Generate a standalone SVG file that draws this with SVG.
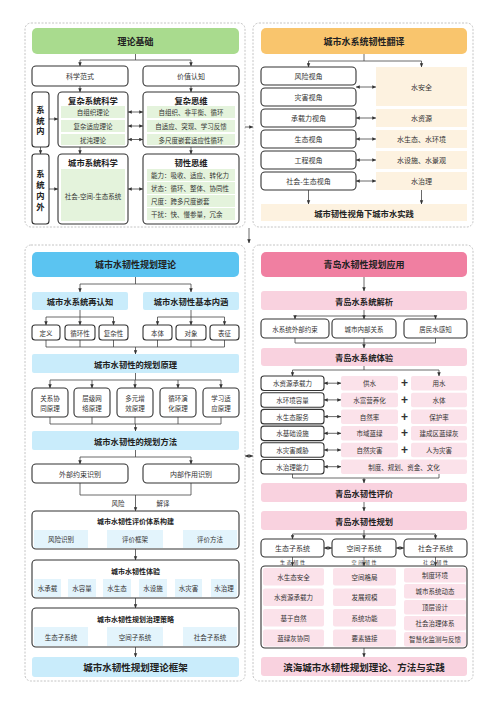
<svg xmlns="http://www.w3.org/2000/svg" width="500" height="707" viewBox="0 0 500 707">
<defs>
<style>
.panel{fill:#fff;stroke:#bdbdbd;stroke-width:0.9;stroke-dasharray:2 1.5}
.box{fill:#fff;stroke:#333;stroke-width:1.1}
.g1{fill:#E4F3DC}.gh{fill:#A9DB8E}
.oh{fill:#F9C56D}.o1{fill:#FDF2E0}
.bh{fill:#5BC4F1}.b1{fill:#C9ECFB}.b2{fill:#E3F4FC}
.ph{fill:#F07FA1}.p1{fill:#F9D2DF}.p2{fill:#FBE2EA}
.t{font-family:"Noto Sans CJK SC","Noto Sans",sans-serif;font-size:6.5px;fill:#333;text-anchor:middle;dominant-baseline:central}
.tl{text-anchor:start}
.b{font-weight:bold;fill:#222}
.h{font-size:9px}
.m{font-size:8.3px}
.s{font-size:7px}
.xs{font-size:5px;letter-spacing:1.6px}
.ln{fill:none;stroke:#444;stroke-width:0.8}
.ar{marker-end:url(#a)}
.da{marker-start:url(#a);marker-end:url(#a)}
.plus{font-family:"Liberation Sans",sans-serif;font-size:12px;font-weight:bold;fill:#333;text-anchor:middle;dominant-baseline:central}
</style>
<marker id="a" viewBox="0 0 6 6" refX="5.6" refY="3" markerWidth="4" markerHeight="4" markerUnits="userSpaceOnUse" orient="auto-start-reverse"><path d="M0,0.4 L6,3 L0,5.6 z" fill="#333"/></marker>
</defs>

<!-- panels -->
<g id="panels">
<rect class="panel" x="25" y="23" width="220" height="204" rx="6"/>
<rect class="panel" x="253" y="23" width="220" height="204" rx="6"/>
<rect class="panel" x="25" y="245" width="220" height="436" rx="6"/>
<rect class="panel" x="253" y="245" width="220" height="436" rx="6"/>
</g>

<!-- connectors -->
<g id="connectors">
<!-- top left -->
<path class="ln" d="M135.5 54 V60 M80 60 H191"/>
<path class="ln ar" d="M80 60 V66"/><path class="ln ar" d="M191 60 V66"/>
<path class="ln ar" d="M80 86 V92"/><path class="ln ar" d="M191 86 V92"/>
<path class="ln ar" d="M49 119 H58"/>
<path class="ln da" d="M128 112 H143"/><path class="ln da" d="M128 126 H143"/><path class="ln da" d="M128 139.5 H143"/>
<path class="ln ar" d="M40.5 147 V154"/><path class="ln ar" d="M80 147 V154"/><path class="ln ar" d="M191 147 V154"/>
<path class="ln ar" d="M49 189 H58"/>
<path class="ln da" d="M128 189 H143"/>
<!-- top right -->
<path class="ln" d="M364 54 V61 M308.5 61 H421.5"/>
<path class="ln ar" d="M308.5 61 V67"/><path class="ln ar" d="M421.5 61 V67"/>
<path class="ln da" d="M356 87 H376"/><path class="ln da" d="M356 118 H376"/><path class="ln da" d="M356 139 H376"/><path class="ln da" d="M356 160 H376"/><path class="ln da" d="M356 181 H376"/>
<path class="ln ar" d="M308.5 190 V204"/><path class="ln ar" d="M421.5 190 V204"/>
<!-- between panels -->
<path class="ln ar" d="M245 127 H253"/>
<path class="ln ar" d="M249 228 V243"/>
<path class="ln da" d="M245 456 H253"/>
<!-- bottom left -->
<path class="ln" d="M135.5 277 V284 M80 284 H191"/>
<path class="ln ar" d="M80 284 V292"/><path class="ln ar" d="M191 284 V292"/>
<path class="ln" d="M80 310 V317 M46 317 H113.5 M191 310 V317 M157.5 317 H224.5"/>
<path class="ln ar" d="M46 317 V325"/><path class="ln ar" d="M80 317 V325"/><path class="ln ar" d="M113.5 317 V325"/>
<path class="ln ar" d="M157.5 317 V325"/><path class="ln ar" d="M191 317 V325"/><path class="ln ar" d="M224.5 317 V325"/>
<path class="ln" d="M46 340 V347 M80 340 V347 M113.5 340 V347 M157.5 340 V347 M191 340 V347 M224.5 340 V347 M46 347 H224.5"/>
<path class="ln ar" d="M135.5 347 V354"/>
<path class="ln" d="M135.5 373 V380 M50 380 H221"/>
<path class="ln ar" d="M50 380 V388"/><path class="ln ar" d="M92 380 V388"/><path class="ln ar" d="M135 380 V388"/><path class="ln ar" d="M178 380 V388"/><path class="ln ar" d="M221 380 V388"/>
<path class="ln" d="M50 417 V424 M92 417 V424 M135 417 V424 M178 417 V424 M221 417 V424 M50 424 H221"/>
<path class="ln ar" d="M135.5 424 V431"/>
<path class="ln" d="M135.5 450 V457 M80 457 H191"/>
<path class="ln ar" d="M80 457 V464"/><path class="ln ar" d="M191 457 V464"/>
<path class="ln" d="M80 483 V495 H191 V483"/>
<path class="ln ar" d="M135.5 495 V511"/>
<path class="ln ar" d="M88 539 H107"/><path class="ln ar" d="M163 539 H183"/>
<path class="ln ar" d="M135.5 549 V560"/>
<path class="ln ar" d="M135.5 598 V608"/>
<path class="ln da" d="M88 636.5 H107"/><path class="ln da" d="M163 636.5 H183"/>
<path class="ln ar" d="M135.5 647 V657"/>
<!-- bottom right -->
<path class="ln ar" d="M364 277 V291"/>
<path class="ln" d="M364 310 V316 M295 316 H435.5"/>
<path class="ln ar" d="M295 316 V319"/><path class="ln ar" d="M364 316 V319"/><path class="ln ar" d="M435.5 316 V319"/>
<path class="ln" d="M295 338 V343 H435.5 V338"/>
<path class="ln ar" d="M364 338 V348"/>
<path class="ln" d="M364 366 V370 M292.5 370 H439"/>
<path class="ln ar" d="M292.5 370 V376"/><path class="ln ar" d="M439 370 V376"/>
<path class="ln da" d="M324 383.2 H341"/><path class="ln da" d="M324 399.9 H341"/><path class="ln da" d="M324 416.6 H341"/><path class="ln da" d="M324 433.3 H341"/><path class="ln da" d="M324 450 H341"/><path class="ln da" d="M324 466.7 H341"/>
<path class="ln" d="M292.5 474 V478 H439 V474"/>
<path class="ln ar" d="M364 478 V483"/>
<path class="ln ar" d="M364 502 V511"/>
<path class="ln" d="M364 530 V534 M292.5 534 H435.5"/>
<path class="ln ar" d="M292.5 534 V539"/><path class="ln ar" d="M364 534 V539"/><path class="ln ar" d="M435.5 534 V539"/>
<path class="ln da" d="M324 548 H332"/><path class="ln da" d="M396 548 H404"/>
<path class="ln ar" d="M292.5 557 V566"/><path class="ln ar" d="M364 557 V566"/><path class="ln ar" d="M435.5 557 V566"/>
<path class="ln da" d="M324 608 H333"/><path class="ln da" d="M396 608 H404"/>
<path class="ln ar" d="M364 648 V657"/>
</g>

<!-- ===== top left ===== -->
<g id="n-lilun">
<rect class="gh" x="32" y="28" width="207" height="26" rx="5"/>
<text class="t b h" x="135.5" y="41">理论基础</text>
</g>
<g id="n-kexue"><rect class="box" x="32" y="66" width="96" height="20" rx="4"/><text class="t s" x="80" y="76">科学范式</text></g>
<g id="n-jiazhi"><rect class="box" x="143" y="66" width="96" height="20" rx="4"/><text class="t s" x="191" y="76">价值认知</text></g>
<g id="n-xtn">
<rect class="box" x="32" y="92" width="17" height="55" rx="3"/>
<text class="t b m" x="40.5" y="109">系</text><text class="t b m" x="40.5" y="119.5">统</text><text class="t b m" x="40.5" y="130">内</text>
</g>
<g id="n-fzxtkx">
<rect class="box" x="58" y="92" width="70" height="55" rx="4"/>
<text class="t b m" x="93" y="100">复杂系统科学</text>
<rect class="g1" x="61" y="106" width="64" height="12"/><text class="t" x="93" y="112">自组织理论</text>
<rect class="g1" x="61" y="120" width="64" height="12"/><text class="t" x="93" y="126">复杂适应理论</text>
<rect class="g1" x="61" y="134" width="64" height="11"/><text class="t" x="93" y="139.5">扰沌理论</text>
</g>
<g id="n-fzsw">
<rect class="box" x="143" y="92" width="96" height="55" rx="4"/>
<text class="t b m" x="191" y="100">复杂思维</text>
<rect class="g1" x="147" y="106" width="88" height="12"/><text class="t" x="191" y="112">自组织、非平衡、循环</text>
<rect class="g1" x="147" y="120" width="88" height="12"/><text class="t" x="191" y="126">自适应、突现、学习反馈</text>
<rect class="g1" x="147" y="134" width="88" height="11"/><text class="t" x="191" y="139.5">多尺度嵌套适应性循环</text>
</g>
<g id="n-xtnw">
<rect class="box" x="32" y="154" width="17" height="70" rx="3"/>
<text class="t b m" x="40.5" y="172.5">系</text><text class="t b m" x="40.5" y="183.5">统</text><text class="t b m" x="40.5" y="194.5">内</text><text class="t b m" x="40.5" y="205.5">外</text>
</g>
<g id="n-csxtkx">
<rect class="box" x="58" y="154" width="70" height="70" rx="4"/>
<text class="t b m" x="93" y="162">城市系统科学</text>
<rect class="g1" x="61" y="169" width="64" height="52"/>
<text class="t" x="93" y="196">社会-空间-生态系统</text>
</g>
<g id="n-rxsw">
<rect class="box" x="143" y="154" width="96" height="70" rx="4"/>
<text class="t b m" x="191" y="162">韧性思维</text>
<rect class="g1" x="147" y="169" width="88" height="12"/><text class="t tl" x="151" y="175">能力：吸收、适应、转化力</text>
<rect class="g1" x="147" y="182" width="88" height="12"/><text class="t tl" x="151" y="188">状态：循环、整体、协同性</text>
<rect class="g1" x="147" y="195" width="88" height="12"/><text class="t tl" x="151" y="201">尺度：跨多尺度嵌套</text>
<rect class="g1" x="147" y="208" width="88" height="12"/><text class="t tl" x="151" y="214">干扰：快、慢参量，冗余</text>
</g>

<!-- ===== top right ===== -->
<g id="n-fanyi">
<rect class="oh" x="261" y="28" width="206" height="26" rx="5"/>
<text class="t b h" x="364" y="41">城市水系统韧性翻译</text>
</g>
<g id="n-views">
<rect class="box" x="261" y="67" width="95" height="18" rx="4"/><text class="t s" x="308.5" y="76">风险视角</text>
<rect class="box" x="261" y="88" width="95" height="18" rx="4"/><text class="t s" x="308.5" y="97">灾害视角</text>
<rect class="box" x="261" y="109" width="95" height="18" rx="4"/><text class="t s" x="308.5" y="118">承载力视角</text>
<rect class="box" x="261" y="130" width="95" height="18" rx="4"/><text class="t s" x="308.5" y="139">生态视角</text>
<rect class="box" x="261" y="151" width="95" height="18" rx="4"/><text class="t s" x="308.5" y="160">工程视角</text>
<rect class="box" x="261" y="172" width="95" height="18" rx="4"/><text class="t s" x="308.5" y="181">社会-生态视角</text>
</g>
<g id="n-water">
<rect class="o1" x="376" y="67" width="91" height="39"/><text class="t s" x="421.5" y="86.5">水安全</text>
<rect class="o1" x="376" y="109" width="91" height="18"/><text class="t s" x="421.5" y="118">水资源</text>
<rect class="o1" x="376" y="130" width="91" height="18"/><text class="t s" x="421.5" y="139">水生态、水环境</text>
<rect class="o1" x="376" y="151" width="91" height="18"/><text class="t s" x="421.5" y="160">水设施、水景观</text>
<rect class="o1" x="376" y="172" width="91" height="18"/><text class="t s" x="421.5" y="181">水治理</text>
</g>
<g id="n-shijian">
<rect class="o1" x="261" y="204" width="206" height="17"/>
<text class="t b m" x="364" y="212.5">城市韧性视角下城市水实践</text>
</g>

<!-- ===== bottom left ===== -->
<g id="n-ghll"><rect class="bh" x="32" y="252" width="207" height="25" rx="5"/><text class="t b h" x="135.5" y="264.5">城市水韧性规划理论</text></g>
<g id="n-zrz"><rect class="b1" x="32" y="292" width="96" height="18" rx="2"/><text class="t b m" x="80" y="301">城市水系统再认知</text></g>
<g id="n-nh"><rect class="b1" x="143" y="292" width="96" height="18" rx="2"/><text class="t b m" x="191" y="301">城市水韧性基本内涵</text></g>
<g id="n-small">
<rect class="box" x="32" y="325" width="28" height="15" rx="3"/><text class="t" x="46" y="332.5">定义</text>
<rect class="box" x="65" y="325" width="30" height="15" rx="3"/><text class="t" x="80" y="332.5">循环性</text>
<rect class="box" x="99" y="325" width="29" height="15" rx="3"/><text class="t" x="113.5" y="332.5">复杂性</text>
<rect class="box" x="143" y="325" width="29" height="15" rx="3"/><text class="t" x="157.5" y="332.5">本体</text>
<rect class="box" x="176" y="325" width="30" height="15" rx="3"/><text class="t" x="191" y="332.5">对象</text>
<rect class="box" x="210" y="325" width="29" height="15" rx="3"/><text class="t" x="224.5" y="332.5">表征</text>
</g>
<g id="n-yl"><rect class="b1" x="32" y="354" width="207" height="19" rx="2"/><text class="t b m" x="135.5" y="363.5">城市水韧性的规划原理</text></g>
<g id="n-yl5">
<rect class="box" x="32" y="388" width="36" height="29" rx="4"/><text class="t" x="50" y="398">关系协</text><text class="t" x="50" y="408">同原理</text>
<rect class="box" x="74" y="388" width="36" height="29" rx="4"/><text class="t" x="92" y="398">层级网</text><text class="t" x="92" y="408">络原理</text>
<rect class="box" x="117" y="388" width="36" height="29" rx="4"/><text class="t" x="135" y="398">多元增</text><text class="t" x="135" y="408">效原理</text>
<rect class="box" x="160" y="388" width="36" height="29" rx="4"/><text class="t" x="178" y="398">循环演</text><text class="t" x="178" y="408">化原理</text>
<rect class="box" x="203" y="388" width="36" height="29" rx="4"/><text class="t" x="221" y="398">学习适</text><text class="t" x="221" y="408">应原理</text>
</g>
<g id="n-ff"><rect class="b1" x="32" y="431" width="207" height="19" rx="2"/><text class="t b m" x="135.5" y="440.5">城市水韧性的规划方法</text></g>
<g id="n-wb"><rect class="box" x="32" y="464" width="96" height="19" rx="4"/><text class="t s" x="80" y="473.5">外部约束识别</text></g>
<g id="n-nb"><rect class="box" x="143" y="464" width="96" height="19" rx="4"/><text class="t s" x="191" y="473.5">内部作用识别</text></g>
<g id="lbl-fx"><text class="t" x="118" y="503">风险</text><text class="t" x="163" y="503">解译</text></g>
<g id="n-pj">
<rect class="box" x="32" y="511" width="207" height="38" rx="4"/>
<text class="t b s" x="135.5" y="520.5">城市水韧性评价体系构建</text>
<rect class="b2" x="34" y="530" width="54" height="18"/><text class="t" x="61" y="539">风险识别</text>
<rect class="b2" x="107" y="530" width="56" height="18"/><text class="t" x="135" y="539">评价框架</text>
<rect class="b2" x="183" y="530" width="54" height="18"/><text class="t" x="210" y="539">评价方法</text>
</g>
<g id="n-ty">
<rect class="box" x="32" y="560" width="207" height="38" rx="4"/>
<text class="t b s" x="135.5" y="570.5">城市水韧性体验</text>
<rect class="b2" x="34" y="579" width="27" height="18"/><text class="t" x="47.5" y="588">水承载</text>
<rect class="b2" x="68" y="579" width="28" height="18"/><text class="t" x="82" y="588">水容量</text>
<rect class="b2" x="103" y="579" width="28" height="18"/><text class="t" x="117" y="588">水生态</text>
<rect class="b2" x="139" y="579" width="28" height="18"/><text class="t" x="153" y="588">水设施</text>
<rect class="b2" x="175" y="579" width="27" height="18"/><text class="t" x="188.5" y="588">水灾害</text>
<rect class="b2" x="211" y="579" width="26" height="18"/><text class="t" x="224" y="588">水治理</text>
</g>
<g id="n-zl">
<rect class="box" x="32" y="608" width="207" height="39" rx="4"/>
<text class="t b s" x="135.5" y="618.5">城市水韧性规划治理策略</text>
<rect class="b2" x="34" y="627" width="54" height="19"/><text class="t" x="61" y="636.5">生态子系统</text>
<rect class="b2" x="107" y="627" width="56" height="19"/><text class="t" x="135" y="636.5">空间子系统</text>
<rect class="b2" x="183" y="627" width="54" height="19"/><text class="t" x="210" y="636.5">社会子系统</text>
</g>
<g id="n-kj"><rect class="b1" x="32" y="657" width="207" height="20" rx="3"/><text class="t b" style="font-size:9.5px" x="135.5" y="667">城市水韧性规划理论框架</text></g>

<!-- ===== bottom right ===== -->
<g id="n-qd"><rect class="ph" x="261" y="252" width="206" height="25" rx="5"/><text class="t b h" x="364" y="264.5">青岛水韧性规划应用</text></g>
<g id="n-jx"><rect class="p1" x="261" y="291" width="206" height="19" rx="3"/><text class="t b m" x="364" y="300.5">青岛水系统解析</text></g>
<g id="n-jx3">
<rect class="box" x="261" y="319" width="68" height="19" rx="4"/><text class="t" x="295" y="328.5">水系统外部约束</text>
<rect class="box" x="332" y="319" width="64" height="19" rx="4"/><text class="t" x="364" y="328.5">城市内部关系</text>
<rect class="box" x="404" y="319" width="63" height="19" rx="4"/><text class="t" x="435.5" y="328.5">居民水感知</text>
</g>
<g id="n-qty"><rect class="p1" x="261" y="348" width="206" height="18" rx="3"/><text class="t b m" x="364" y="357">青岛水系统体验</text></g>
<g id="n-rows">
<rect class="box" x="261" y="376" width="63" height="14.5" rx="3"/><text class="t" x="292.5" y="383.2">水资源承载力</text>
<rect class="box" x="261" y="392.7" width="63" height="14.5" rx="3"/><text class="t" x="292.5" y="399.9">水环境容量</text>
<rect class="box" x="261" y="409.4" width="63" height="14.5" rx="3"/><text class="t" x="292.5" y="416.6">水生态服务</text>
<rect class="box" x="261" y="426.1" width="63" height="14.5" rx="3"/><text class="t" x="292.5" y="433.3">水基础设施</text>
<rect class="box" x="261" y="442.8" width="63" height="14.5" rx="3"/><text class="t" x="292.5" y="450">水灾害威胁</text>
<rect class="box" x="261" y="459.5" width="63" height="14.5" rx="3"/><text class="t" x="292.5" y="466.7">水治理能力</text>
<rect class="p2" x="341" y="376" width="57" height="14.5" rx="2"/><text class="t" x="369.5" y="383.2">供水</text>
<rect class="p2" x="341" y="392.7" width="57" height="14.5" rx="2"/><text class="t" x="369.5" y="399.9">水富营养化</text>
<rect class="p2" x="341" y="409.4" width="57" height="14.5" rx="2"/><text class="t" x="369.5" y="416.6">自然率</text>
<rect class="p2" x="341" y="426.1" width="57" height="14.5" rx="2"/><text class="t" x="369.5" y="433.3">市域蓝绿</text>
<rect class="p2" x="341" y="442.8" width="57" height="14.5" rx="2"/><text class="t" x="369.5" y="450">自然灾害</text>
<rect class="p2" x="341" y="459.5" width="126" height="14.5" rx="2"/><text class="t" x="404" y="466.7">制度、规划、资金、文化</text>
<rect class="p2" x="411" y="376" width="56" height="14.5" rx="2"/><text class="t" x="439" y="383.2">用水</text>
<rect class="p2" x="411" y="392.7" width="56" height="14.5" rx="2"/><text class="t" x="439" y="399.9">水体</text>
<rect class="p2" x="411" y="409.4" width="56" height="14.5" rx="2"/><text class="t" x="439" y="416.6">保护率</text>
<rect class="p2" x="411" y="426.1" width="56" height="14.5" rx="2"/><text class="t" x="439" y="433.3">建成区蓝绿灰</text>
<rect class="p2" x="411" y="442.8" width="56" height="14.5" rx="2"/><text class="t" x="439" y="450">人为灾害</text>
<text class="plus" x="404.5" y="383.2">+</text><text class="plus" x="404.5" y="399.9">+</text><text class="plus" x="404.5" y="416.6">+</text><text class="plus" x="404.5" y="433.3">+</text><text class="plus" x="404.5" y="450">+</text>
</g>
<g id="n-qpj"><rect class="p1" x="261" y="483" width="206" height="19" rx="3"/><text class="t b m" x="364" y="492.5">青岛水韧性评价</text></g>
<g id="n-qgh"><rect class="p1" x="261" y="511" width="206" height="19" rx="3"/><text class="t b m" x="364" y="520.5">青岛水韧性规划</text></g>
<g id="n-sub">
<rect class="box" x="261" y="539" width="63" height="18" rx="4"/><text class="t s" x="292.5" y="548">生态子系统</text>
<rect class="box" x="332" y="539" width="64" height="18" rx="4"/><text class="t s" x="364" y="548">空间子系统</text>
<rect class="box" x="404" y="539" width="63" height="18" rx="4"/><text class="t s" x="435.5" y="548">社会子系统</text>
<text class="t xs" x="293.3" y="561.5">生态韧性</text>
<text class="t xs" x="364.8" y="561.5">空间韧性</text>
<text class="t xs" x="436.3" y="561.5">社会韧性</text>
</g>
<g id="n-big">
<rect class="box" x="261" y="566" width="206" height="82" rx="4"/>
<rect class="p2" x="263" y="568" width="61" height="17.5" rx="2"/><text class="t" x="293.5" y="576.8">水生态安全</text>
<rect class="p2" x="263" y="588.5" width="61" height="17.5" rx="2"/><text class="t" x="293.5" y="597.3">水资源承载力</text>
<rect class="p2" x="263" y="609" width="61" height="17.5" rx="2"/><text class="t" x="293.5" y="617.8">基于自然</text>
<rect class="p2" x="263" y="629.5" width="61" height="17" rx="2"/><text class="t" x="293.5" y="638">蓝绿灰协同</text>
<rect class="p2" x="333" y="568" width="63" height="17.5" rx="2"/><text class="t" x="364.5" y="576.8">空间格局</text>
<rect class="p2" x="333" y="588.5" width="63" height="17.5" rx="2"/><text class="t" x="364.5" y="597.3">发展规模</text>
<rect class="p2" x="333" y="609" width="63" height="17.5" rx="2"/><text class="t" x="364.5" y="617.8">系统功能</text>
<rect class="p2" x="333" y="629.5" width="63" height="17" rx="2"/><text class="t" x="364.5" y="638">要素链接</text>
<rect class="p2" x="404" y="568" width="62" height="14.5" rx="2"/><text class="t" x="435" y="575.3">制度环境</text>
<rect class="p2" x="404" y="584" width="62" height="14.5" rx="2"/><text class="t" x="435" y="591.3">城市系统动态</text>
<rect class="p2" x="404" y="600" width="62" height="14.5" rx="2"/><text class="t" x="435" y="607.3">顶层设计</text>
<rect class="p2" x="404" y="616" width="62" height="14.5" rx="2"/><text class="t" x="435" y="623.3">社会治理体系</text>
<rect class="p2" x="404" y="632" width="62" height="14.5" rx="2"/><text class="t" x="435" y="639.3">智慧化监测与反馈</text>
</g>
<g id="n-bh"><rect class="p1" x="261" y="657" width="206" height="19" rx="3"/><text class="t b" style="font-size:9.5px" x="364" y="666.5">滨海城市水韧性规划理论、方法与实践</text></g>
</svg>
